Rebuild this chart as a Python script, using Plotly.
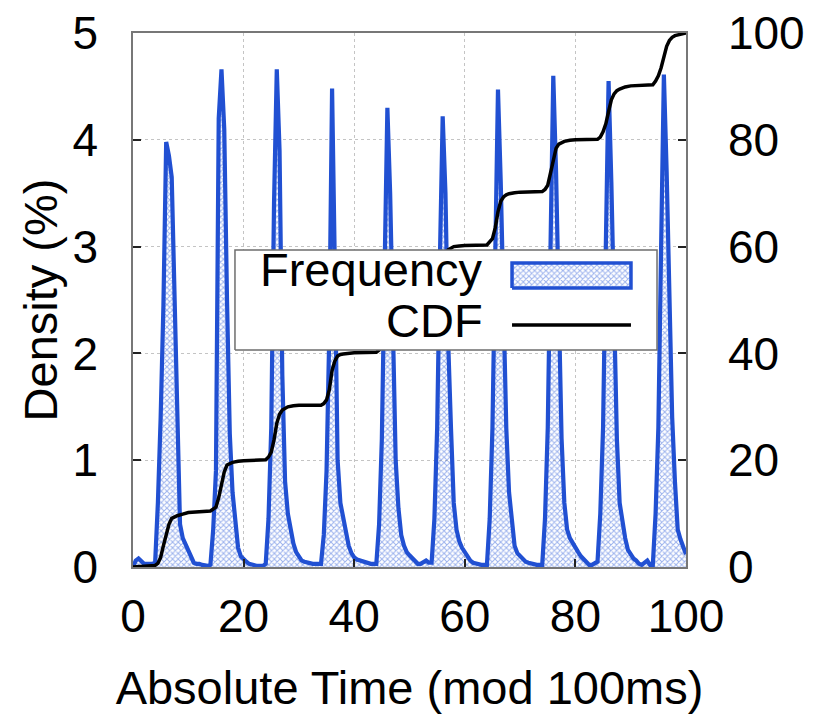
import plotly.graph_objects as go

# ---------------- data ----------------
# density (%) sampled every 0.5 ms; one list per 10 ms period (offsets 0.0 .. 9.5)
dens_p0 = [0.00, 0.06, 0.08, 0.05, 0.03, 0.03, 0.03, 0.03, 0.04, 0.60, 1.40, 2.45, 3.98, 3.85, 3.65, 2.60, 1.50, 0.40, 0.27, 0.21]
dens_p1 = [0.16, 0.08, 0.04, 0.03, 0.03, 0.02, 0.01, 0.01, 0.02, 0.35, 0.90, 4.20, 4.66, 4.10, 2.50, 1.25, 0.70, 0.38, 0.18, 0.10]
dens_p2 = [0.07, 0.05, 0.03, 0.02, 0.01, 0.01, 0.01, 0.01, 0.03, 0.45, 1.30, 3.40, 4.66, 3.90, 1.80, 0.80, 0.50, 0.35, 0.22, 0.14]
dens_p3 = [0.09, 0.06, 0.05, 0.04, 0.03, 0.03, 0.03, 0.03, 0.03, 0.30, 0.90, 2.20, 4.48, 2.80, 1.00, 0.60, 0.45, 0.30, 0.20, 0.13]
dens_p4 = [0.09, 0.07, 0.06, 0.05, 0.05, 0.04, 0.03, 0.03, 0.03, 0.40, 1.20, 2.80, 4.30, 3.50, 2.00, 1.00, 0.55, 0.30, 0.20, 0.14]
dens_p5 = [0.11, 0.08, 0.05, 0.03, 0.03, 0.05, 0.06, 0.04, 0.04, 0.45, 1.30, 2.90, 4.22, 3.50, 2.10, 1.30, 0.60, 0.35, 0.24, 0.18]
dens_p6 = [0.14, 0.10, 0.06, 0.04, 0.03, 0.02, 0.02, 0.02, 0.02, 0.45, 1.30, 2.90, 4.47, 3.60, 2.20, 1.30, 0.70, 0.40, 0.20, 0.13]
dens_p7 = [0.10, 0.07, 0.05, 0.04, 0.03, 0.03, 0.02, 0.02, 0.02, 0.45, 1.30, 3.00, 4.60, 3.70, 2.20, 1.20, 0.60, 0.35, 0.27, 0.22]
dens_p8 = [0.19, 0.14, 0.10, 0.07, 0.04, 0.02, 0.02, 0.04, 0.05, 0.50, 1.30, 3.00, 4.55, 3.60, 2.20, 1.20, 0.60, 0.40, 0.27, 0.16]
dens_p9 = [0.12, 0.08, 0.06, 0.03, 0.02, 0.04, 0.06, 0.02, 0.02, 0.50, 1.30, 3.00, 4.61, 3.70, 2.30, 1.40, 0.80, 0.35, 0.26, 0.18]
dens_end = [0.12]

density = (dens_p0 + dens_p1 + dens_p2 + dens_p3 + dens_p4 + dens_p5
           + dens_p6 + dens_p7 + dens_p8 + dens_p9 + dens_end)
time_ms = [i * 0.5 for i in range(len(density))]

# CDF (%) read at offsets within each period
cdf_offsets = [0, 4, 4.5, 5, 5.5, 6, 6.5, 7, 7.5, 8, 9]
cdf_p0 = [0.0, 0.3, 0.7, 1.8, 4.0, 6.3, 8.0, 9.1, 9.4, 9.6, 9.9]
cdf_p1 = [10.2, 10.5, 10.8, 11.2, 13.0, 15.7, 17.8, 19.1, 19.4, 19.6, 19.8]
cdf_p2 = [19.9, 20.1, 20.6, 21.5, 23.8, 26.9, 28.6, 29.4, 29.8, 30.0, 30.2]
cdf_p3 = [30.3, 30.3, 30.6, 31.3, 33.2, 36.8, 38.6, 39.5, 39.8, 39.9, 40.0]
cdf_p4 = [40.1, 40.2, 40.6, 41.5, 43.5, 46.5, 48.5, 49.4, 49.8, 50.0, 50.1]
cdf_p5 = [50.2, 50.3, 50.7, 51.5, 53.5, 56.5, 58.5, 59.4, 59.8, 60.0, 60.1]
cdf_p6 = [60.2, 60.3, 60.8, 61.5, 63.5, 66.5, 68.5, 69.3, 69.7, 69.9, 70.1]
cdf_p7 = [70.2, 70.3, 70.7, 71.5, 73.8, 76.5, 78.4, 79.2, 79.5, 79.7, 79.9]
cdf_p8 = [80.0, 80.1, 80.5, 81.5, 83.0, 85.3, 87.5, 88.6, 89.2, 89.5, 89.9]
cdf_p9 = [90.1, 90.3, 91.0, 92.0, 93.5, 95.5, 97.5, 98.6, 99.2, 99.5, 99.8]
cdf_end = [100.0]
cdf_periods = [cdf_p0, cdf_p1, cdf_p2, cdf_p3, cdf_p4, cdf_p5, cdf_p6, cdf_p7, cdf_p8, cdf_p9]

cdf_x, cdf_y = [], []
for k, vals in enumerate(cdf_periods):
    for off, v in zip(cdf_offsets, vals):
        cdf_x.append(10 * k + off)
        cdf_y.append(v)
cdf_x.append(100)
cdf_y += cdf_end

x_ticks = [0, 20, 40, 60, 80, 100]
y_ticks = [0, 1, 2, 3, 4, 5]
y2_ticks = [0, 20, 40, 60, 80, 100]

# ---------------- style ----------------
BLUE = "#2150d2"
HATCH = "#3a66dc"
FONT = "Liberation Sans, Arial, sans-serif"
TICK_SIZE = 46
TITLE_SIZE = 47
HATCH_PATTERN = dict(shape="x", fgcolor=HATCH, bgcolor="rgba(255,255,255,0)",
                     size=4, solidity=0.45)

fig = go.Figure()

fig.add_trace(go.Scatter(
    x=time_ms, y=density, mode="lines",
    line=dict(color=BLUE, width=4.2),
    fill="tozeroy", fillcolor="rgba(255,255,255,0)",
    fillpattern=HATCH_PATTERN,
    showlegend=False, hoverinfo="skip"))

fig.add_trace(go.Scatter(
    x=cdf_x, y=cdf_y, yaxis="y2", mode="lines",
    line=dict(color="black", width=3.5),
    showlegend=False, hoverinfo="skip"))

# ------------- hand-made legend (text left of sample, like the original) -------------
box_x0, box_x1, box_y0, box_y1 = 0.1844, 0.9476, 0.4064, 0.5936
sym_x0, sym_x1 = 0.6854, 0.9005
freq_y0, freq_y1 = 0.5225, 0.5693
cdf_line_y = 0.4532

fig.add_trace(go.Scatter(
    x=[box_x0, box_x1, box_x1, box_x0, box_x0],
    y=[box_y0, box_y0, box_y1, box_y1, box_y0],
    xaxis="x3", yaxis="y3", mode="lines", fill="toself",
    fillcolor="white", line=dict(color="#6e6e6e", width=1.5),
    showlegend=False, hoverinfo="skip"))
fig.add_trace(go.Scatter(
    x=[sym_x0, sym_x1, sym_x1, sym_x0, sym_x0],
    y=[freq_y0, freq_y0, freq_y1, freq_y1, freq_y0],
    xaxis="x3", yaxis="y3", mode="lines", fill="toself",
    fillcolor="rgba(255,255,255,0)", fillpattern=HATCH_PATTERN,
    line=dict(color=BLUE, width=3.5),
    showlegend=False, hoverinfo="skip"))
fig.add_trace(go.Scatter(
    x=[sym_x0, sym_x1], y=[cdf_line_y, cdf_line_y],
    xaxis="x3", yaxis="y3", mode="lines",
    line=dict(color="black", width=3.5),
    showlegend=False, hoverinfo="skip"))

fig.add_annotation(x=0.636, y=(freq_y0 + freq_y1) / 2 + 0.012, xref="paper", yref="paper",
                   text="Frequency", showarrow=False, xanchor="right", yanchor="middle",
                   font=dict(family=FONT, size=TITLE_SIZE, color="black"))
fig.add_annotation(x=0.636, y=cdf_line_y + 0.009, xref="paper", yref="paper",
                   text="CDF", showarrow=False, xanchor="right", yanchor="middle",
                   font=dict(family=FONT, size=TITLE_SIZE, color="black"))

axis_common = dict(
    ticks="inside", ticklen=8, tickcolor="#222", tickwidth=1.5,
    showline=True, linecolor="#777", linewidth=1.5,
    zeroline=False, automargin=False, ticklabeloverflow="allow",
    tickfont=dict(family=FONT, size=TICK_SIZE, color="black"),
)

# the page body adds an 8 px offset, so the figure is 8 px smaller and margins shifted
fig.update_layout(
    width=811, height=706,
    margin=dict(l=125, r=133, t=25, b=147),
    paper_bgcolor="white", plot_bgcolor="white",
    font=dict(family=FONT, color="black"),
    showlegend=False,
    xaxis=dict(
        range=[0, 100], tickvals=x_ticks, mirror=True,
        showgrid=True, gridcolor="#c4c4c4", griddash="dot", gridwidth=1,
        ticklabelstandoff=8,
        title=dict(text="Absolute Time (mod 100ms)", standoff=32,
                   font=dict(family=FONT, size=TITLE_SIZE, color="black")),
        **axis_common),
    yaxis=dict(
        range=[0, 5], tickvals=y_ticks,
        showgrid=True, gridcolor="#c4c4c4", griddash="dot", gridwidth=1,
        ticklabelstandoff=24,
        title=dict(text="Density (%)", standoff=0,
                   font=dict(family=FONT, size=TITLE_SIZE, color="black")),
        **axis_common),
    yaxis2=dict(
        range=[0, 100], tickvals=y2_ticks, overlaying="y", side="right",
        showgrid=False, ticklabelstandoff=31,
        **axis_common),
    xaxis3=dict(range=[0, 1], overlaying="x", visible=False, fixedrange=True),
    yaxis3=dict(range=[0, 1], overlaying="y", visible=False, fixedrange=True),
)

fig.write_html("out.html")
